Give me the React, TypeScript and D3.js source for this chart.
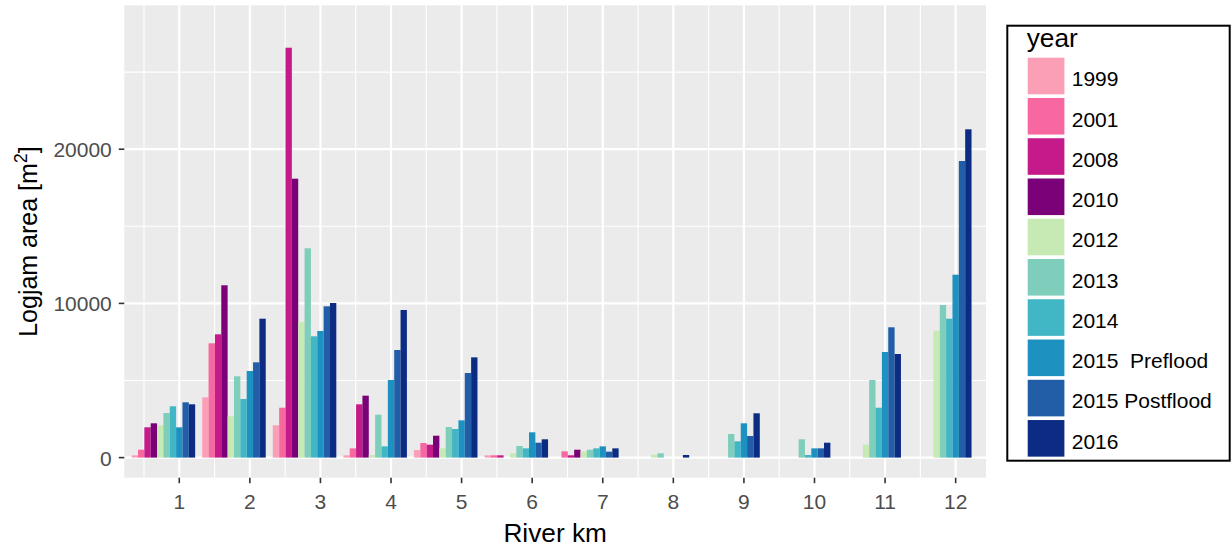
import React from "react";
import * as d3 from "d3";

// River km categories and tick labels
const riverKm = [1, 2, 3, 4, 5, 6, 7, 8, 9, 10, 11, 12];
const yTicks = [0, 10000, 20000];
const yMinor = [5000, 15000, 25000];

// Survey years (legend order) and their colours
const years = [
  "1999",
  "2001",
  "2008",
  "2010",
  "2012",
  "2013",
  "2014",
  "2015  Preflood",
  "2015 Postflood",
  "2016",
];
const yearColors = [
  "#FA9FB5",
  "#F768A1",
  "#C51B8A",
  "#7A0177",
  "#C7E9B4",
  "#7FCDBB",
  "#41B6C4",
  "#1D91C0",
  "#225EA8",
  "#0C2C84",
];

// Logjam area [m²] per river km, one array per survey
const area1999 = [150, 3910, 2094, 150, 490, 150, 0, 0, 0, 0, 0, 0];
const area2001 = [512, 7412, 3236, 600, 946, 150, 408, 0, 0, 0, 0, 0];
const area2008 = [1965, 7996, 26582, 3456, 838, 150, 150, 0, 0, 0, 0, 0];
const area2010 = [2224, 11174, 18087, 4016, 1420, 0, 512, 0, 0, 0, 0, 0];
const area2012 = [2094, 2678, 8794, 170, 600, 280, 408, 190, 0, 0, 838, 8230];
const area2013 = [2892, 5272, 13573, 2784, 1984, 752, 512, 280, 1530, 1187, 5032, 9896];
const area2014 = [3327, 3800, 7866, 730, 1855, 600, 600, 0, 1057, 170, 3236, 9008];
const area2015Pre = [1965, 5616, 8210, 5032, 2417, 1640, 730, 0, 2224, 600, 6848, 11861];
const area2015Post = [3586, 6180, 9812, 6978, 5486, 966, 385, 0, 1400, 600, 8450, 19235];
const area2016 = [3456, 9008, 10026, 9572, 6502, 1187, 600, 170, 2873, 966, 6719, 21290];

const seriesValues = [
  area1999,
  area2001,
  area2008,
  area2010,
  area2012,
  area2013,
  area2014,
  area2015Pre,
  area2015Post,
  area2016,
];

const W = 1231;
const H = 554;
const panel = { left: 124.3, right: 986, top: 5.3, bottom: 477.7 };
const FONT = "'Liberation Sans', Arial, sans-serif";
const SX = 1.05;

const x = d3.scaleLinear().domain([0.221, 12.43]).range([panel.left, panel.right]);
const y = d3.scaleLinear().domain([-1303, 29332]).range([panel.bottom, panel.top]);

// bars of one km are dodged across a 0.9-wide slot, shifted left of the tick
const groupWidth = 0.9;
const groupShift = -0.225;
const slot = d3
  .scaleBand<number>()
  .domain(d3.range(years.length))
  .range([-groupWidth / 2 + groupShift, groupWidth / 2 + groupShift])
  .padding(0);

function HText(props: {
  x: number;
  y: number;
  anchor?: string;
  size: number;
  fill: string;
  children: React.ReactNode;
}) {
  return (
    <text
      transform={`translate(${props.x},${props.y}) scale(${SX},1)`}
      textAnchor={props.anchor || "start"}
      fontSize={props.size}
      fill={props.fill}
      fontFamily={FONT}
    >
      {props.children}
    </text>
  );
}

export default function App() {
  const xMinor = d3.range(0.5, 12.5, 1).filter((v) => x(v) > panel.left && x(v) < panel.right);
  const keyTop = 57.7;
  const keyStep = 40.26;
  const keySize = 36.6;

  return (
    <svg
      width={W}
      height={H}
      style={{ position: "absolute", left: 0, top: 0, background: "#fff" }}
    >
      <rect x={0} y={0} width={W} height={H} fill="#fff" />
      {/* panel */}
      <rect
        x={panel.left}
        y={panel.top}
        width={panel.right - panel.left}
        height={panel.bottom - panel.top}
        fill="#EBEBEB"
      />
      {yMinor.map((v) => (
        <line key={"ym" + v} x1={panel.left} x2={panel.right} y1={y(v)} y2={y(v)} stroke="#fff" strokeWidth={1.1} />
      ))}
      {xMinor.map((v) => (
        <line key={"xm" + v} x1={x(v)} x2={x(v)} y1={panel.top} y2={panel.bottom} stroke="#fff" strokeWidth={1.1} />
      ))}
      {yTicks.map((v) => (
        <line key={"yg" + v} x1={panel.left} x2={panel.right} y1={y(v)} y2={y(v)} stroke="#fff" strokeWidth={2.2} />
      ))}
      {riverKm.map((v) => (
        <line key={"xg" + v} x1={x(v)} x2={x(v)} y1={panel.top} y2={panel.bottom} stroke="#fff" strokeWidth={2.2} />
      ))}

      {/* bars */}
      {seriesValues.map((vals, si) =>
        vals.map((v, ki) => {
          if (!v) return null;
          const km = riverKm[ki];
          const x0 = x(km + (slot(si) as number));
          const x1 = x(km + (slot(si) as number) + slot.bandwidth());
          return (
            <rect
              key={si + "-" + ki}
              x={x0}
              y={y(v)}
              width={x1 - x0}
              height={y(0) - y(v)}
              fill={yearColors[si]}
            />
          );
        })
      )}

      {/* y axis */}
      {yTicks.map((v) => (
        <g key={"yt" + v}>
          <line x1={panel.left - 5.5} x2={panel.left} y1={y(v)} y2={y(v)} stroke="#333333" strokeWidth={1.6} />
          <HText x={panel.left - 12.5} y={y(v) + 8} anchor="end" size={20} fill="#4D4D4D">
            {d3.format("d")(v)}
          </HText>
        </g>
      ))}
      {/* x axis */}
      {riverKm.map((v) => (
        <g key={"xt" + v}>
          <line x1={x(v)} x2={x(v)} y1={panel.bottom} y2={panel.bottom + 5.5} stroke="#333333" strokeWidth={1.6} />
          <HText x={x(v)} y={509.3} anchor="middle" size={20} fill="#4D4D4D">
            {v}
          </HText>
        </g>
      ))}

      {/* axis titles */}
      <HText x={(panel.left + panel.right) / 2} y={542} anchor="middle" size={25} fill="#000">
        River km
      </HText>
      <text
        transform={`translate(36.5,${(panel.top + panel.bottom) / 2}) rotate(-90)`}
        textAnchor="middle"
        fontSize={25}
        fontFamily={FONT}
        fill="#000"
      >
        Logjam area [m
        <tspan fontSize={18} dy={-10}>
          2
        </tspan>
        <tspan dy={10}>]</tspan>
      </text>

      {/* legend */}
      <rect x={1007.3} y={25.7} width={222.4} height={435} fill="#fff" stroke="#000" strokeWidth={2} />
      <HText x={1026.7} y={47.3} size={25} fill="#000">
        year
      </HText>
      {years.map((yr, i) => {
        const top = keyTop + i * keyStep;
        return (
          <g key={yr}>
            <rect x={1027.7} y={top} width={36.7} height={keySize} fill={yearColors[i]} />
            <HText x={1071.7} y={top + keySize / 2 + 10.3} size={20} fill="#000">
              <tspan style={{ whiteSpace: "pre" }}>{yr}</tspan>
            </HText>
          </g>
        );
      })}
    </svg>
  );
}
